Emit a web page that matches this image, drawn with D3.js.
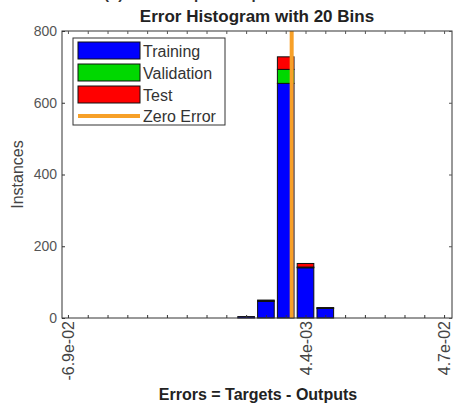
<!DOCTYPE html>
<html>
<head>
<meta charset="utf-8">
<script src="https://cdn.jsdelivr.net/npm/d3@7"></script>
<style>
body{margin:0;background:#fff;}
text{font-family:"Liberation Sans",Arial,sans-serif;}
</style>
</head>
<body>
<script>
var binFirst = -0.069, binLast = 0.047, nBins = 20;
var bins = d3.range(nBins);
var training   = [0,0,0,0,0,0,0,0,0,4,46,654,140,27,0,0,0,0,0,0];
var validation = [0,0,0,0,0,0,0,0,0,0,2,39,2,1,0,0,0,0,0,0];
var test       = [0,0,0,0,0,0,0,0,0,0,2,35,10,1,0,0,0,0,0,0];
var seriesNames = ["Training","Validation","Test"];
var seriesColors = ["#0000ff","#00d800","#ff0000"];
var yTicks = [0,200,400,600,800];
var xTickLabels = {0:"-6.9e-02", 12:"4.4e-03", 19:"4.7e-02"};

var w = 453, h = 406;
var pLeft = 62, pRight = 452, pTop = 31, pBottom = 318;

var svg = d3.select("body").append("svg")
  .attr("width", w)
  .attr("height", h);

// x works on bin index, zero error mapped from the bin centres
var x = d3.scaleLinear().domain([-0.3, 19.4]).range([pLeft, pRight]);
var y = d3.scaleLinear().domain([0, 800]).range([pBottom, pTop]);
var binStep = (binLast - binFirst) / (nBins - 1);
var zeroIdx = (0 - binFirst) / binStep;
var bw = (x(1) - x(0)) * 0.84;

var rows = bins.map(function(i){
  return {i:i, Training:training[i], Validation:validation[i], Test:test[i]};
});
var stack = d3.stack().keys(seriesNames)(rows);

// cut-off caption above the title
svg.append("text")
  .attr("x", 104).attr("y", -1)
  .style("font-size","15px").style("font-weight","bold").attr("fill","#333")
  .text("(b) Error Output sample");

svg.append("text")
  .attr("x", 257).attr("y", 22)
  .attr("text-anchor","middle")
  .style("font-size","17px").style("font-weight","bold").attr("fill","#222")
  .text("Error Histogram with 20 Bins");

// bars
svg.selectAll("g.series")
  .data(stack)
  .enter().append("g")
  .attr("class","series")
  .attr("fill", function(d,i){return seriesColors[i];})
  .selectAll("rect")
  .data(function(d){return d.filter(function(p){return p[1]-p[0] > 0;});})
  .enter().append("rect")
  .attr("x", function(d){return x(d.data.i) - bw/2;})
  .attr("y", function(d){return y(d[1]);})
  .attr("width", bw)
  .attr("height", function(d){return y(d[0]) - y(d[1]);})
  .attr("stroke","#111")
  .attr("stroke-width",1);

// zero error line
svg.append("line")
  .attr("x1", x(zeroIdx)).attr("x2", x(zeroIdx))
  .attr("y1", pTop).attr("y2", pBottom)
  .attr("stroke","#f7a028")
  .attr("stroke-width",4);

// axes box
svg.append("rect")
  .attr("x", pLeft).attr("y", pTop)
  .attr("width", pRight-pLeft).attr("height", pBottom-pTop)
  .attr("fill","none").attr("stroke","#333").attr("stroke-width",1);

var xAxis = d3.axisBottom(x).tickValues(bins).tickSize(-3)
  .tickFormat(function(d){return xTickLabels[d] || "";});
var gx = svg.append("g").attr("transform","translate(0,"+pBottom+")").call(xAxis);
gx.select(".domain").remove();
gx.selectAll("line").attr("stroke","#333");
gx.selectAll("text")
  .attr("transform","rotate(-90)")
  .attr("x", -3).attr("y", 0).attr("dy","0.35em")
  .attr("text-anchor","end")
  .attr("fill","#444")
  .style("font-size","16px");

var xTop = d3.axisTop(x).tickValues(bins).tickSize(-3).tickFormat("");
var gxt = svg.append("g").attr("transform","translate(0,"+pTop+")").call(xTop);
gxt.select(".domain").remove();
gxt.selectAll("line").attr("stroke","#555");

var yAxis = d3.axisLeft(y).tickValues(yTicks).tickSize(-3).tickPadding(5);
var gy = svg.append("g").attr("transform","translate("+pLeft+",0)").call(yAxis);
gy.select(".domain").remove();
gy.selectAll("line").attr("stroke","#333");
gy.selectAll("text").attr("fill","#555").style("font-size","14px");

var yRight = d3.axisRight(y).tickValues(yTicks).tickSize(-3).tickFormat("");
var gyr = svg.append("g").attr("transform","translate("+pRight+",0)").call(yRight);
gyr.select(".domain").remove();
gyr.selectAll("line").attr("stroke","#555");

svg.append("text")
  .attr("transform","translate(23,"+((pTop+pBottom)/2)+") rotate(-90)")
  .attr("text-anchor","middle")
  .attr("fill","#444")
  .style("font-size","16px")
  .text("Instances");

svg.append("text")
  .attr("x", 258).attr("y", 400)
  .attr("text-anchor","middle")
  .style("font-size","16px").style("font-weight","bold").attr("fill","#222")
  .text("Errors = Targets - Outputs");

// legend
var lg = svg.append("g").attr("transform","translate(73,38)");
lg.append("rect").attr("width",152).attr("height",87)
  .attr("fill","#fff").attr("stroke","#333").attr("stroke-width",1);
seriesNames.forEach(function(name,i){
  var yy = 4 + i*22;
  lg.append("rect").attr("x",5).attr("y",yy).attr("width",62).attr("height",17)
    .attr("fill",seriesColors[i]).attr("stroke","#111");
  lg.append("text").attr("x",70).attr("y",yy+9).attr("dy","0.35em")
    .attr("fill","#333").style("font-size","16px").text(name);
});
lg.append("line").attr("x1",5).attr("x2",67).attr("y1",78).attr("y2",78)
  .attr("stroke","#f7a028").attr("stroke-width",4);
lg.append("text").attr("x",70).attr("y",78).attr("dy","0.35em")
  .attr("fill","#333").style("font-size","16px").text("Zero Error");
</script>
</body>
</html>
